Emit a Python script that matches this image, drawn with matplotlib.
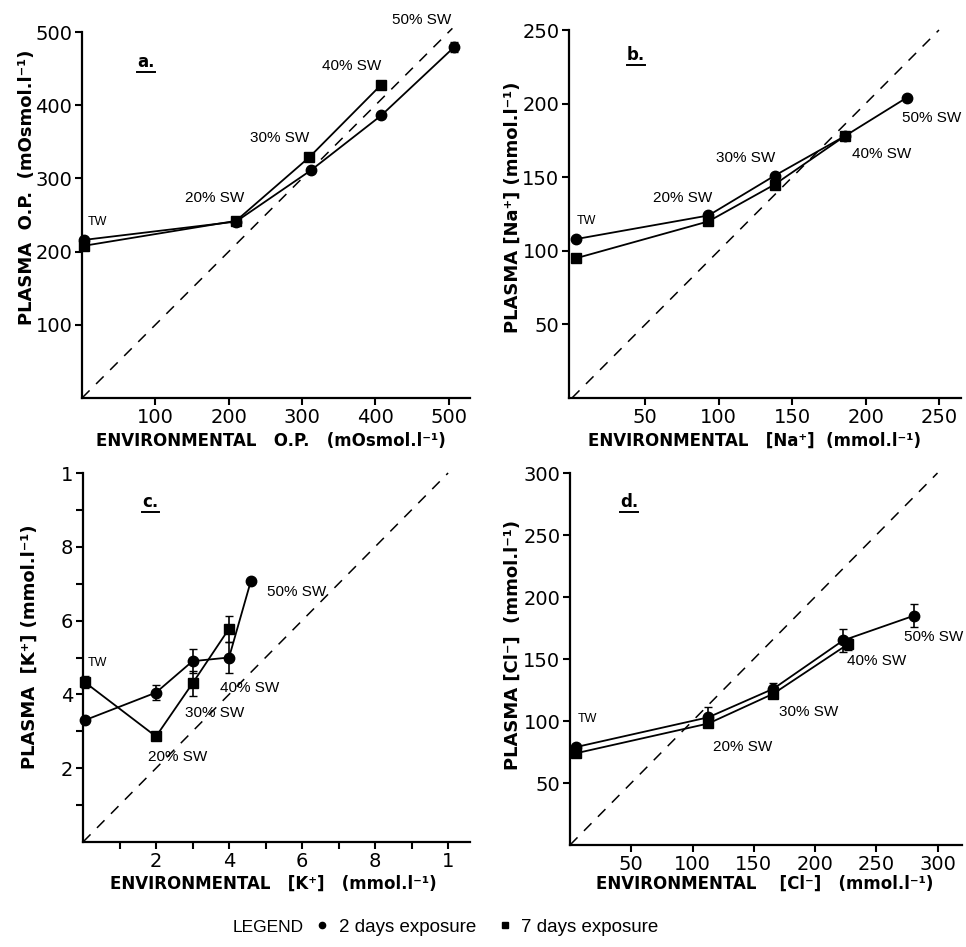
import numpy as np
import matplotlib.pyplot as plt
from matplotlib.lines import Line2D

plt.rcParams['font.family'] = ['DejaVu Sans']

# panel a - osmotic pressure
a_x2 = [3, 210, 312, 408, 507]
a_y2 = [216, 241, 311, 386, 479]
a_e2 = [3, 2, 3, 3, 7]
a_x7 = [3, 210, 310, 408]
a_y7 = [208, 242, 329, 428]
a_e7 = [3, 2, 3, 3]

# panel b - sodium
b_x2 = [3, 93, 138, 186, 228]
b_y2 = [108, 124, 151, 178, 204]
b_x7 = [3, 93, 138, 186]
b_y7 = [95, 120, 145, 178]

# panel c - potassium
c_x2 = [0.05, 2, 3, 4, 4.6]
c_y2 = [3.3, 4.05, 4.9, 5.0, 7.08]
c_e2 = [0, 0.2, 0.33, 0.42, 0]
c_x7 = [0.05, 2, 3, 4]
c_y7 = [4.33, 2.86, 4.3, 5.78]
c_e7 = [0.17, 0.05, 0.33, 0.35]

# panel d - chloride
d_x2 = [5, 113, 166, 223, 281]
d_y2 = [79, 103, 126, 165, 185]
d_e2 = [2, 8, 5, 9, 9]
d_x7 = [5, 113, 166, 227]
d_y7 = [74, 98, 122, 162]
d_e7 = [2, 3, 3, 5]

labels = ['TW', '20% SW', '30% SW', '40% SW', '50% SW']

fig = plt.figure(figsize=(9.66, 9.47), dpi=100)

def make_axes(rect, xlim, ylim, xticks, yticks):
    ax = fig.add_axes(rect)
    ax.set_xlim(*xlim)
    ax.set_ylim(*ylim)
    ax.set_xticks(xticks)
    ax.set_yticks(yticks)
    for s in ['top', 'right']:
        ax.spines[s].set_visible(False)
    for s in ['left', 'bottom']:
        ax.spines[s].set_linewidth(1.6)
    ax.tick_params(direction='out', length=5, width=1.5, labelsize=14, pad=2)
    ax.tick_params(which='minor', direction='out', length=5, width=1.5)
    return ax

def draw_series(ax, x2, y2, x7, y7, e2=None, e7=None, diag=1.0):
    ax.plot([0, diag], [0, diag], color='k', lw=1.1, dashes=(7, 6), clip_on=False)
    ax.errorbar(x2, y2, yerr=e2, color='k', lw=1.3, marker='o', ms=7.5,
                capsize=3, elinewidth=1.2, clip_on=False)
    ax.errorbar(x7, y7, yerr=e7, color='k', lw=1.3, marker='s', ms=7,
                capsize=3, elinewidth=1.2, clip_on=False)

def annotate(ax, pos, letter, letter_pos):
    for i, lab in enumerate(labels):
        size = 9 if lab == 'TW' else 11
        ax.text(pos[i][0], pos[i][1], lab, fontsize=size, ha='left', va='center',
                family='Liberation Sans', clip_on=False)
    lx, ly = letter_pos
    ax.text(lx, ly, letter + '.', fontsize=12, fontweight='bold', ha='left',
            va='center', transform=ax.transAxes)
    # underline under the panel letter
    ax.plot([lx, lx + 0.045], [ly - 0.028, ly - 0.028], color='k', lw=1.4,
            transform=ax.transAxes)

# a
ax = make_axes([82/966, 549/947, 388/966, 366/947], (0, 529), (0, 500),
               [100, 200, 300, 400, 500], [100, 200, 300, 400, 500])
draw_series(ax, a_x2, a_y2, a_x7, a_y7, a_e2, a_e7, diag=505)
annotate(ax, [(8, 240), (140, 273), (229, 355), (327, 454), (423, 516)], 'a', (0.142, 0.918))

# b
ax = make_axes([569/966, 549/947, 392/966, 368/947], (-2, 265), (0, 250),
               [50, 100, 150, 200, 250], [50, 100, 150, 200, 250])
draw_series(ax, b_x2, b_y2, b_x7, b_y7, diag=250)
annotate(ax, [(3, 120), (55, 136), (98, 163), (191, 166), (225, 190)], 'b', (0.148, 0.932))

# c
ax = make_axes([83/966, 105/947, 387/966, 369/947], (0, 10.6), (0, 10),
               [2, 4, 6, 8, 10], [2, 4, 6, 8, 10])
ax.set_xticks([1, 3, 5, 7, 9], minor=True)
ax.set_yticks([1, 3, 5, 7, 9], minor=True)
ax.set_xticklabels(['2', '4', '6', '8', '1'])
ax.set_yticklabels(['2', '4', '6', '8', '1'])
draw_series(ax, c_x2, c_y2, c_x7, c_y7, c_e2, c_e7, diag=10)
annotate(ax, [(0.14, 4.85), (1.78, 2.3), (2.8, 3.5), (3.75, 4.17), (5.04, 6.78)], 'c', (0.152, 0.921))

# d
ax = make_axes([570/966, 102/947, 392/966, 372/947], (0, 320), (0, 300),
               [50, 100, 150, 200, 250, 300], [50, 100, 150, 200, 250, 300])
draw_series(ax, d_x2, d_y2, d_x7, d_y7, d_e2, d_e7, diag=300)
annotate(ax, [(6.5, 101.6), (117, 79), (171, 107), (226, 148), (273, 168)], 'd', (0.128, 0.922))

# axis titles
lab_kw = dict(fontsize=13, fontweight='bold', ha='center', va='center')
fig.text(27/966, 1 - 187/947, 'PLASMA  O.P.  (mOsmol.l⁻¹)', rotation=90, **lab_kw)
fig.text(513/966, 1 - 207/947, 'PLASMA [Na⁺] (mmol.l⁻¹)', rotation=90, **lab_kw)
fig.text(30/966, 1 - 647/947, 'PLASMA  [K⁺] (mmol.l⁻¹)', rotation=90, **lab_kw)
fig.text(513/966, 1 - 645/947, 'PLASMA [Cl⁻]  (mmol.l⁻¹)', rotation=90, **lab_kw)
lab_kw['fontsize'] = 12
fig.text(271/966, 1 - 441/947, 'ENVIRONMENTAL   O.P.   (mOsmol.l⁻¹)', **lab_kw)
fig.text(754/966, 1 - 441/947, 'ENVIRONMENTAL   [Na⁺]  (mmol.l⁻¹)', **lab_kw)
fig.text(273/966, 1 - 884/947, 'ENVIRONMENTAL   [K⁺]   (mmol.l⁻¹)', **lab_kw)
fig.text(765/966, 1 - 884/947, 'ENVIRONMENTAL    [Cl⁻]   (mmol.l⁻¹)', **lab_kw)

# legend
fig.text(233/966, 1 - 927/947, 'LEGEND', fontsize=12.5, ha='left', va='center',
         family='Liberation Sans')
handles = [Line2D([], [], color='k', marker='o', ms=4.5, ls='none'),
           Line2D([], [], color='k', marker='s', ms=4.5, ls='none')]
fig.legend(handles, ['2 days exposure', '7 days exposure'], loc='center left',
           bbox_to_anchor=(296/966, 1 - 927/947), ncol=2, frameon=False,
           prop={'family': 'Liberation Sans', 'size': 13.5},
           handlelength=1.0, handletextpad=0.4, columnspacing=1.0)

fig.savefig('out.png', dpi=100)
